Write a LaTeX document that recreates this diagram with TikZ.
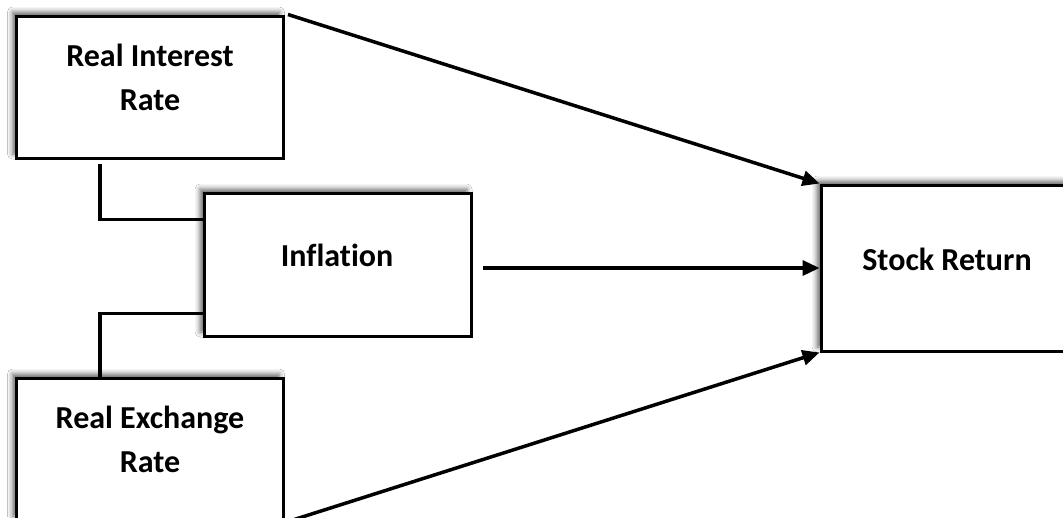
\documentclass[tikz,border=0pt]{standalone}
\usepackage{fontspec}
\setmainfont{Carlito}[Ligatures={NoCommon}]
\usetikzlibrary{arrows.meta,shadows.blur}
\tikzset{
  box/.style={draw=black, line width=3pt, fill=white, rectangle, inner sep=0pt,
    blur shadow={shadow xshift=-4pt, shadow yshift=4pt, shadow blur radius=5pt, shadow opacity=60}},
  lbl/.style={align=center, font=\fontsize{32}{44}\selectfont\bfseries, inner sep=0pt},
  link/.style={line width=3.5pt},
  arr/.style={line width=3.5pt, -{Triangle[length=17pt,width=15pt]}}
}
\begin{document}
\begin{tikzpicture}[x=1pt,y=-1pt]
\useasboundingbox (0,0) rectangle (1063,517);
\clip (0,0) rectangle (1063,517);
\fill[white] (0,0) rectangle (1063,517);
\node[box, minimum width=267pt, minimum height=142pt] (rir) at (150,87) {};
\node[box, minimum width=267pt, minimum height=143pt] (infl) at (337.5,264.5) {};
\node[box, minimum width=267pt, minimum height=142pt] (rer) at (150,449) {};
\node[box, minimum width=268pt, minimum height=166pt] (sr) at (955,268) {};
\node[lbl] (trir) at (150,77) {Real Interest\\Rate};
\node[lbl] (tinfl) at (337,255) {Inflation};
\node[lbl] (trer) at (150,439) {Real Exchange\\Rate};
\node[lbl] (tsr) at (947,259) {Stock Return};
\draw[link] ([xshift=85pt,yshift=-4pt]rir.south west) |- ([yshift=-28pt]infl.north west);
\draw[link] ([yshift=24pt]infl.south west) -| ([xshift=85pt]rer.north west);
\coordinate (ia) at (483,268);
\draw[arr] (ia) -- (sr.west);
\draw[arr] ([xshift=3pt]rir.north east) -- (sr.north west);
\draw[arr] ([xshift=3pt]rer.south east) -- (sr.south west);
\end{tikzpicture}
\end{document}
